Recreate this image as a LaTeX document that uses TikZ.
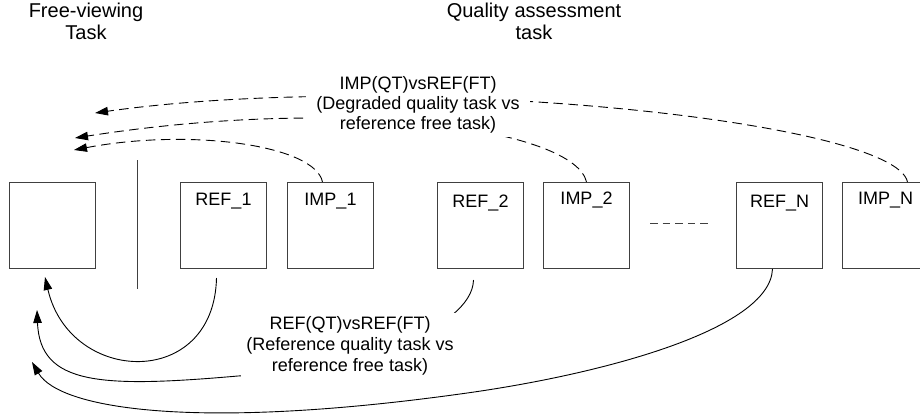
\documentclass[tikz,border=0pt]{standalone}
\usepackage{fontspec}
\setmainfont{Liberation Sans}
\usetikzlibrary{arrows.meta}
\begin{document}
\begin{tikzpicture}[x=1pt,y=-1pt,
  imgbox/.style={draw=black!75, line width=1pt, minimum width=86pt, minimum height=86pt, inner sep=0pt, anchor=north west},
  boxlabel/.style={font=\fontsize{18}{21}\selectfont, inner sep=0pt, anchor=base},
  titletext/.style={font=\fontsize{20}{22}\selectfont, align=center, inner sep=0pt},
  notetext/.style={align=center, fill=white, inner xsep=10pt, inner ysep=3pt},
  tipstyle/.style={-{Triangle[length=13pt,width=8.5pt]}},
  dashconn/.style={draw, tipstyle, line width=0.9pt, dash pattern=on 9.5pt off 5.5pt},
  solidconn/.style={draw, tipstyle, line width=0.9pt},
]
\clip (0,0) rectangle (920,417);
\fill[white] (0,0) rectangle (920,417);

% titles
\node[titletext] (tfree) at (86,21.8) {Free-viewing\\Task};
\node[titletext] (tqual) at (534,21.8) {Quality assessment\\task};

% image boxes
\node[imgbox] (free) at (9,182) {};
\node[imgbox] (ref1) at (180,182) {};
\node[imgbox] (imp1) at (287,182) {};
\node[imgbox] (ref2) at (437,182) {};
\node[imgbox] (imp2) at (543,182) {};
\node[imgbox] (refN) at (736,182) {};
\node[imgbox] (impN) at (842,182) {};

\node[boxlabel] (ref1t) at ([yshift=-23pt]ref1.north) {REF\_1};
\node[boxlabel] (imp1t) at ([yshift=-23pt]imp1.north) {IMP\_1};
\node[boxlabel] (ref2t) at ([yshift=-25pt]ref2.north) {REF\_2};
\node[boxlabel] (imp2t) at ([yshift=-22pt]imp2.north) {IMP\_2};
\node[boxlabel] (refNt) at ([yshift=-25pt]refN.north) {REF\_N};
\node[boxlabel] (impNt) at ([yshift=-22pt]impN.north) {IMP\_N};

% separator and ellipsis
\coordinate (sepA) at (137,160);
\coordinate (sepB) at (137,289);
\draw[black!75, line width=1pt] (sepA) -- (sepB);
\coordinate (dotsA) at (650,223);
\coordinate (dotsB) at (712,223);
\draw[black!75, line width=1pt, dash pattern=on 7.6pt off 5pt] (dotsA) -- (dotsB);

% arrow tip coordinates near the free-viewing box
\coordinate (t1) at (95,113);
\coordinate (t2) at (75,138);
\coordinate (t3) at (74,150);
\coordinate (tA) at (45,277);
\coordinate (tB) at (37,310);
\coordinate (tC) at (32,362);

% dashed connectors (IMP vs REF(FT))
\path[dashconn] ([xshift=22pt]impN.north) .. controls (895,120) and (400,70) .. (t1);
\path[dashconn] (imp2.north) .. controls (575,130) and (350,95) .. (t2);
\path[dashconn] ([xshift=-8pt]imp1.north) .. controls (315,145) and (190,128) .. (t3);

% solid connectors (REF(QT) vs REF(FT))
\path[solidconn] ([xshift=-7pt,yshift=-9pt]ref1.south) .. controls (214,390) and (70,385) .. (tA);
\path[solidconn] ([xshift=-7pt,yshift=-11pt]ref2.south) .. controls (472,330) and (350,370) .. (238,376)
   .. controls (100,388) and (40,385) .. (tB);
\path[solidconn] ([xshift=-7pt]refN.south) .. controls (770,330) and (600,375) .. (460,394)
   .. controls (200,430) and (60,410) .. (tC);

% labels
\node[notetext, font=\fontsize{18}{20}\selectfont] (imptext) at (418,105.3)
  {IMP(QT)vsREF(FT)\\(Degraded quality task vs\\reference free task)};
\node[notetext, font=\fontsize{18}{21}\selectfont, inner xsep=5pt] (reftext) at (350,345.5)
  {REF(QT)vsREF(FT)\\(Reference quality task vs\\reference free task)};
\end{tikzpicture}
\end{document}
